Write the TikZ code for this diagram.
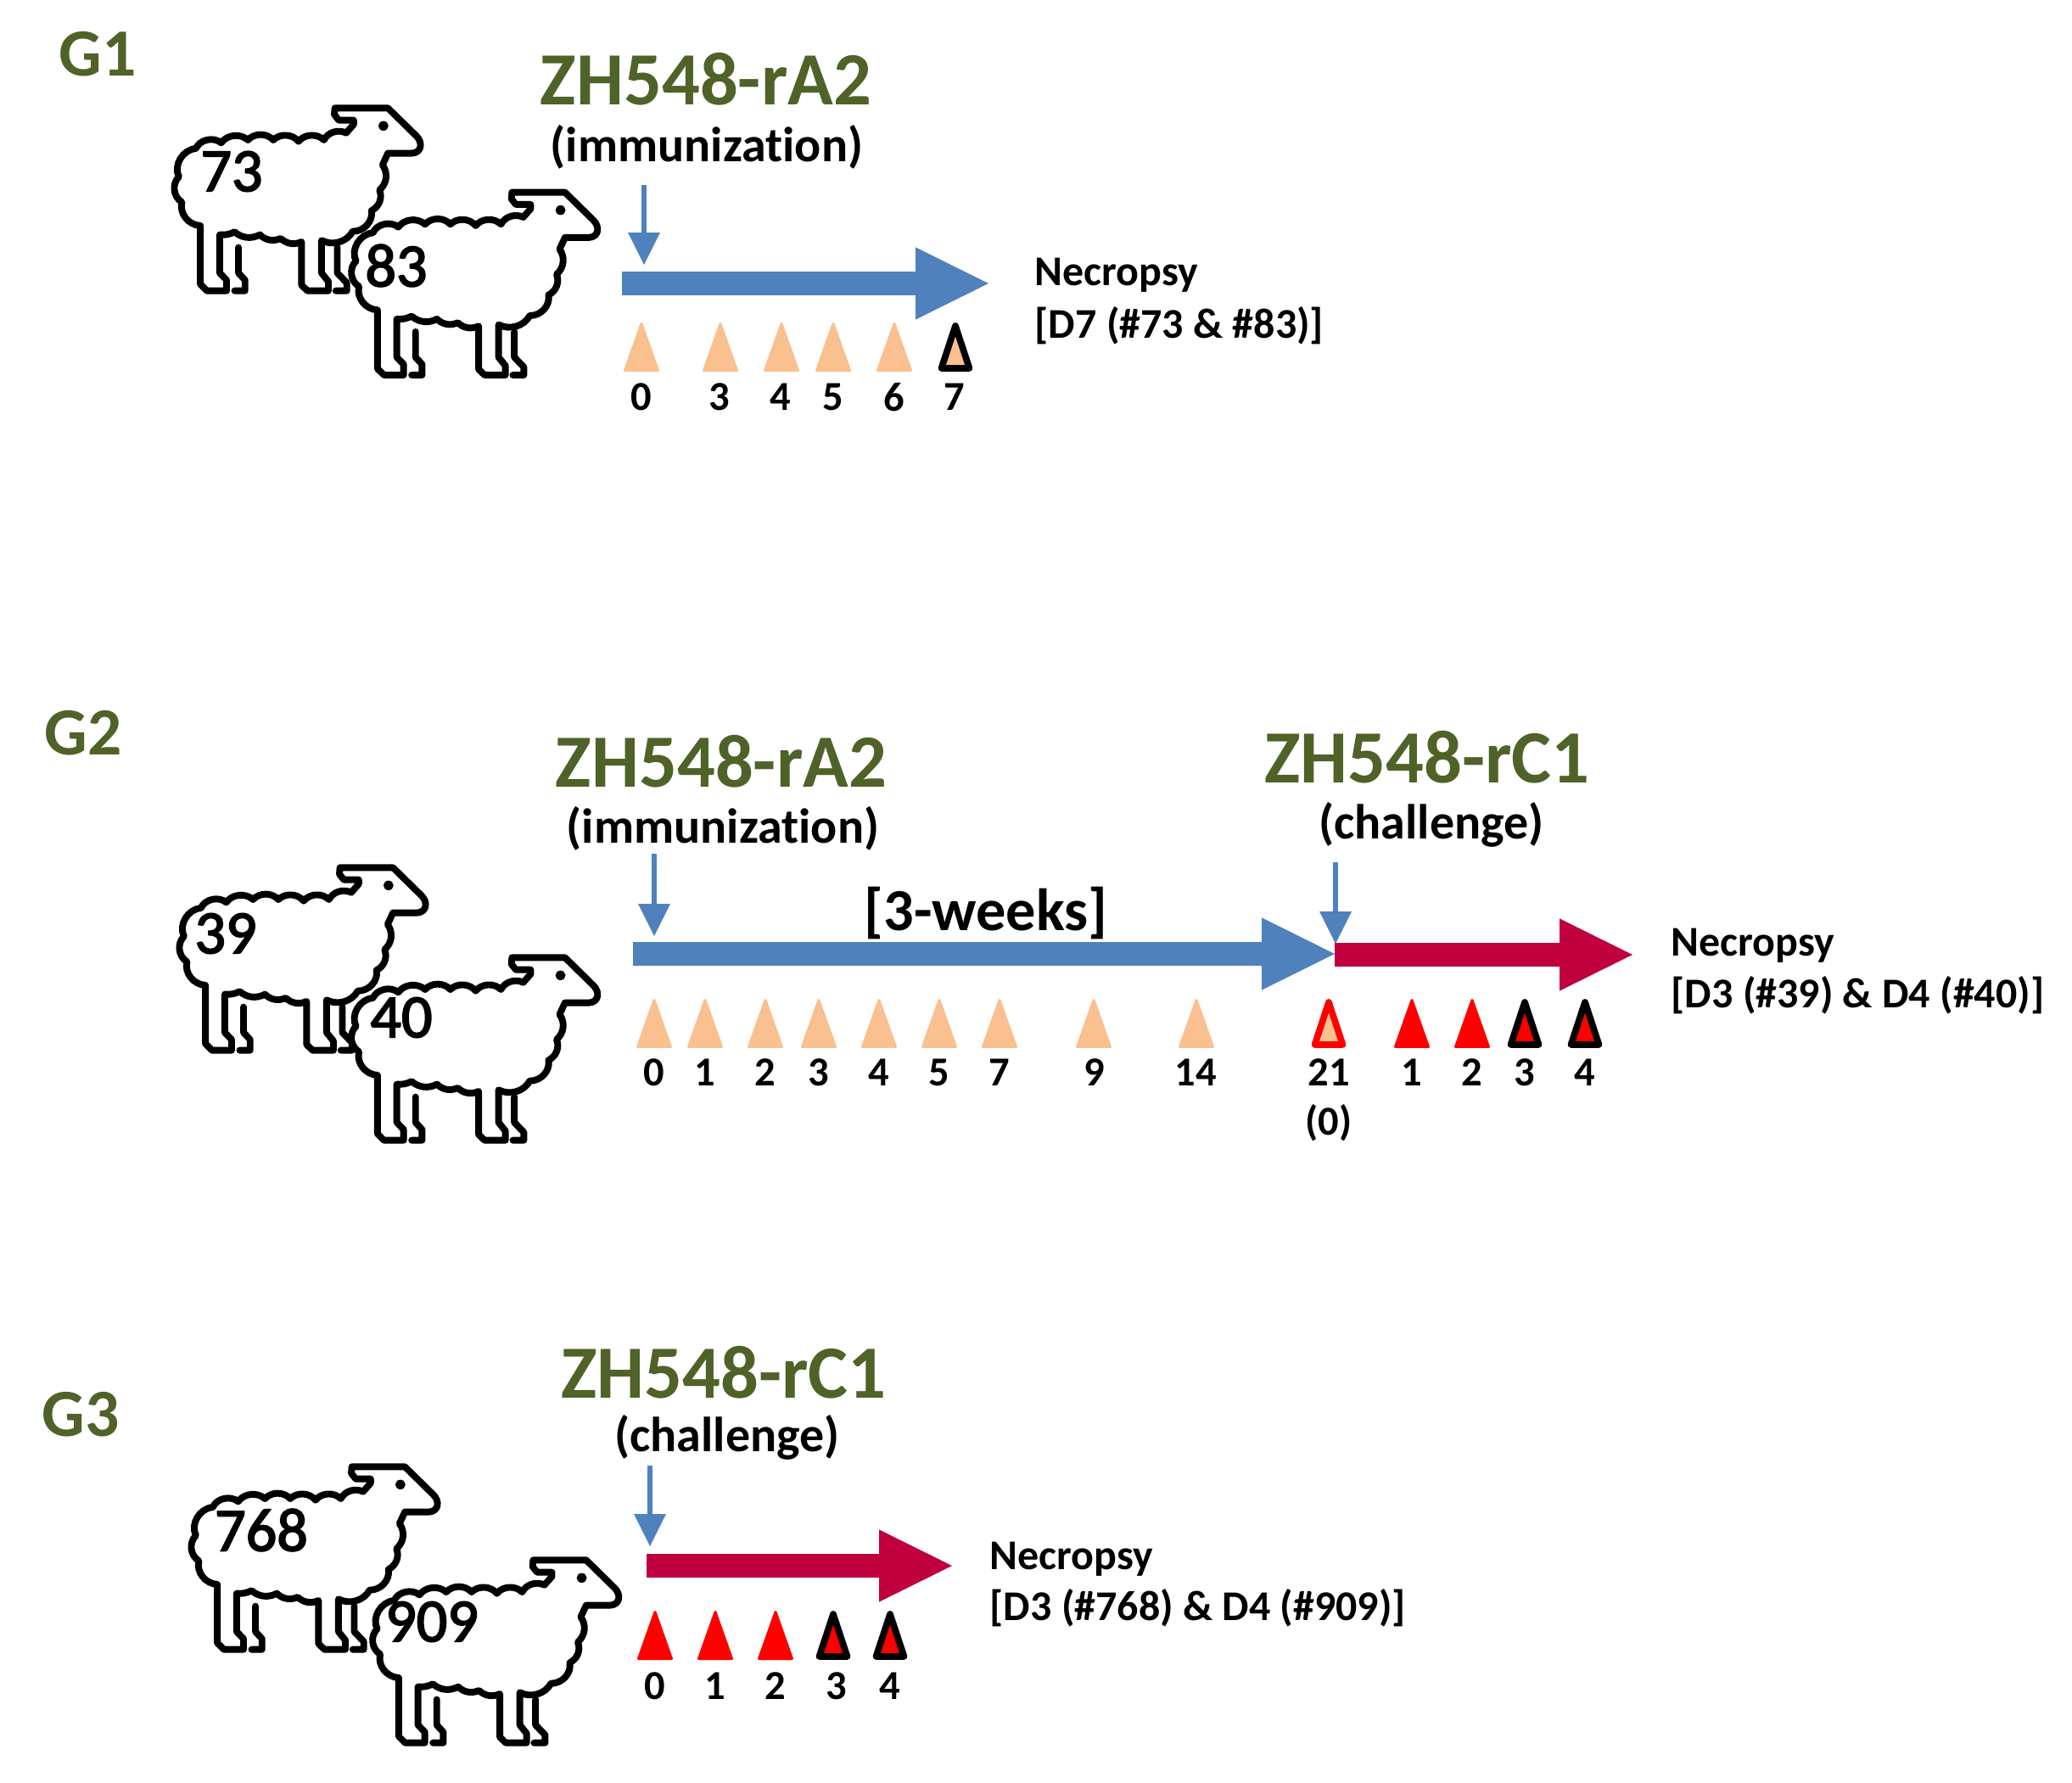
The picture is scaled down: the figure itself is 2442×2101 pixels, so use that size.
\documentclass[tikz,border=0pt]{standalone}
\usepackage{fontspec}
\setmainfont{Carlito}[Ligatures=NoCommon]
\newfontfamily\numfont{Carlito}[FakeBold=2.5]
\usetikzlibrary{arrows.meta}
\definecolor{olive}{HTML}{4F6228}
\definecolor{lineblue}{HTML}{4F81BD}
\definecolor{crimson}{HTML}{C0003E}
\definecolor{peach}{HTML}{FAC090}
\definecolor{pure}{HTML}{FF0000}
\tikzset{
  sheepline/.style={draw=black,line width=2.25pt,line join=round,line cap=round},
  pics/sheep/.style={code={
    \begin{scope}[xscale=0.3508,yscale=0.3333]
    \draw[sheepline,fill=white] (620,575) -- (620,665) -- (652,700) -- (652,728) -- (615,728);
    \draw[sheepline,fill=white] (288,575) -- (288,665) -- (310,690) -- (310,728) -- (275,728);
    \draw[sheepline,fill=white] (612,82) -- (790,82) -- (885,180) .. controls (908,203) and (905,240) .. (870,242) -- (790,242) -- (772,283)
      to[bend left=40] (762,372) to[bend left=40] (735,445) to[bend left=50] (672,518) to[bend left=45] (567,550)
      -- (567,665) -- (590,695) -- (590,728) -- (520,728) -- (500,708) -- (500,555)
      to[bend left=35] (430,543) to[bend left=35] (360,530) to[bend left=35] (275,520) to[bend left=15] (225,530)
      -- (225,665) -- (248,690) -- (248,728) -- (182,728) -- (160,705) -- (160,498)
      to[bend left=50] (98,415) to[bend left=50] (88,325) to[bend left=55] (145,225) to[bend left=55] (230,205)
      to[bend left=50] (320,195) to[bend left=50] (405,195) to[bend left=50] (490,200) to[bend left=50] (575,195)
      to[bend left=45] (650,170) -- (675,140) -- (675,125) -- (625,125) -- (610,105) -- cycle;
    \fill (775,145) circle (17);
    \end{scope}
  }},
  bigt/.style={text=olive,font=\bfseries\fontsize{25.2}{30}\selectfont,inner sep=0pt},
  grp/.style={text=olive,font=\bfseries\fontsize{22.6}{27}\selectfont,inner sep=0pt},
  sub/.style={font=\bfseries\fontsize{16.5}{20}\selectfont,inner sep=0pt},
  nec/.style={font=\bfseries\fontsize{14.2}{18}\selectfont,inner sep=0pt,anchor=west},
  day/.style={font=\bfseries\fontsize{13.8}{16}\selectfont,inner sep=0pt},
  num/.style={font=\numfont\fontsize{20.5}{24}\selectfont,inner sep=0pt},
  weeks/.style={font=\bfseries\fontsize{20}{25}\selectfont,inner sep=0pt},
  blockblue/.style={draw=lineblue,line width=8.2pt,-{Triangle[length=24.4pt,width=24.2pt,line width=0pt]}},
  blockred/.style={draw=crimson,line width=8.2pt,-{Triangle[length=24.4pt,width=24.2pt,line width=0pt]}},
  pointer/.style={draw=lineblue,line width=1.7pt,-{Triangle[length=10.8pt,width=10.8pt,line width=0pt]}},
  plainmark/.style={line width=0.85pt,line join=round},
  ringmark/.style={line width=2.2pt,line join=round},
}
% #1 x, #2 base y, #3 fill colour
\newcommand{\markplain}[3]{\draw[plainmark,draw=#3,fill=#3] (#1-19.5,#2-1.5) -- (#1+19.5,#2-1.5) -- (#1,#2-56.5) -- cycle;}
% #1 x, #2 base y, #3 fill colour, #4 ring colour
\newcommand{\markring}[4]{\draw[ringmark,draw=#4,fill=#3] (#1-16.5,#2-4) -- (#1+16.5,#2-4) -- (#1,#2-54) -- cycle;}
\begin{document}
\begin{tikzpicture}[x=0.01cm,y=-0.01cm]
\useasboundingbox (0,0) rectangle (2442,2101);

% ---------- G1
\node[grp] (g1) at (115,64) {G1};
\pic at (180,100) {sheep};
\pic at (388.7,199.3) {sheep};
\node[num] (n73) at (273,202) {73};
\node[num] (n83) at (467,313) {83};
\node[bigt] (t1) at (832,93) {ZH548-rA2};
\node[sub] (s1) at (833,173) {(immunization)};
\coordinate (p1a) at (759,218); \coordinate (p1b) at (759,312);
\draw[pointer] (p1a) -- (p1b);
\coordinate (b1a) at (733,334); \coordinate (b1b) at (1165,334);
\draw[blockblue] (b1a) -- (b1b);
\foreach \x in {756,849,921,982,1054} {\markplain{\x}{438}{peach}}
\markring{1126}{438}{peach}{black}
\foreach \x/\l in {756/0,848/3,920/4,982/5,1054/6,1125/7} {\node[day] (d1\l) at (\x,468) {\l};}
\node[nec] (ne1) at (1219,324) {Necropsy};
\node[nec] (br1) at (1219,384) {[D7 (\#73 \& \#83)]};

% ---------- G2
\node[grp] (g2) at (98,864) {G2};
\pic at (186,995) {sheep};
\pic at (388.7,1101) {sheep};
\node[num] (n39) at (266,1100) {39};
\node[num] (n40) at (473,1199) {40};
\node[bigt] (t2) at (850,897) {ZH548-rA2};
\node[sub] (s2) at (852,976) {(immunization)};
\node[bigt] (t3) at (1682,892) {ZH548-rC1};
\node[sub] (s3) at (1687,972) {(challenge)};
\node[weeks] (w) at (1162,1076) {[3-weeks]};
\coordinate (p2a) at (771,1006); \coordinate (p2b) at (771,1103);
\draw[pointer] (p2a) -- (p2b);
\coordinate (b2a) at (746,1124); \coordinate (b2b) at (1573,1124);
\draw[blockblue] (b2a) -- (b2b);
\coordinate (b3a) at (1573,1125); \coordinate (b3b) at (1924,1125);
\draw[blockred] (b3a) -- (b3b);
\coordinate (p3a) at (1574,1016); \coordinate (p3b) at (1574,1112);
\draw[pointer] (p3a) -- (p3b);
\foreach \x in {771,831,902,965,1036,1107,1178,1289,1410} {\markplain{\x}{1235}{peach}}
\markring{1566}{1235}{peach}{pure}
\markplain{1664}{1235}{pure}
\markplain{1735}{1235}{pure}
\markring{1797}{1235}{pure}{black}
\markring{1868}{1235}{pure}{black}
\foreach \x/\l/\n in {771/0/a,831/1/b,902/2/c,965/3/d,1036/4/e,1107/5/f,1178/7/g,1290/9/h,1409/14/i,1566/21/j,1664/1/k,1735/2/l,1797/3/m,1868/4/o} {\node[day] (d2\n) at (\x,1264) {\l};}
\node[day] (d20) at (1566,1323) {(0)};
\node[nec] (ne2) at (1969,1114) {Necropsy};
\node[nec] (br2) at (1969,1173) {[D3 (\#39) \& D4 (\#40)]};

% ---------- G3
\node[grp] (g3) at (95,1667) {G3};
\pic at (200,1701) {sheep};
\pic at (413.7,1811) {sheep};
\node[num] (n768) at (308,1803) {768};
\node[num] (n909) at (509,1911) {909};
\node[bigt] (t4) at (853,1617) {ZH548-rC1};
\node[sub] (s4) at (857,1694) {(challenge)};
\coordinate (p4a) at (766,1727); \coordinate (p4b) at (766,1822);
\draw[pointer] (p4a) -- (p4b);
\coordinate (b4a) at (762,1845); \coordinate (b4b) at (1122,1845);
\draw[blockred] (b4a) -- (b4b);
\markplain{772}{1956}{pure}
\markplain{843}{1956}{pure}
\markplain{914}{1956}{pure}
\markring{982}{1956}{pure}{black}
\markring{1049}{1956}{pure}{black}
\foreach \x/\l in {772/0,843/1,914/2,986/3,1049/4} {\node[day] (d3\l) at (\x,1987) {\l};}
\node[nec] (ne3) at (1166,1837) {Necropsy};
\node[nec] (br3) at (1166,1895) {[D3 (\#768) \& D4 (\#909)]};
\end{tikzpicture}
\end{document}
